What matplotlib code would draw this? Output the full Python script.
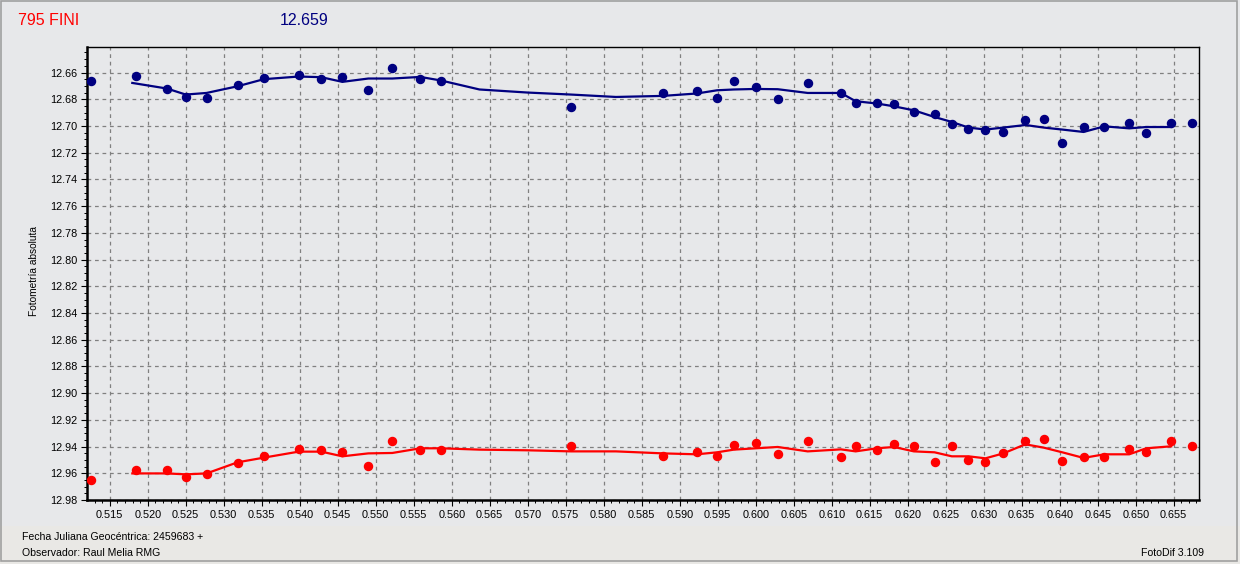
import matplotlib
matplotlib.use("Agg")
import matplotlib.pyplot as plt
from matplotlib.ticker import MultipleLocator, FormatStrFormatter
from matplotlib.patches import Rectangle
import numpy as np

# ---- data ----
point_x = [0.51254, 0.51842, 0.52253, 0.52500, 0.52774, 0.53182, 0.53527, 0.53987, 0.54285, 0.54561,
           0.54903, 0.55218, 0.55586, 0.55862, 0.57570, 0.58779, 0.59226, 0.59492, 0.59712, 0.60000,
           0.60290, 0.60684, 0.61121, 0.61315, 0.61595, 0.61818, 0.62081, 0.62353, 0.62580, 0.62800,
           0.63023, 0.63259, 0.63548, 0.63789, 0.64034, 0.64314, 0.64586, 0.64915, 0.65138, 0.65467,
           0.65742]
blue_y = [12.6663, 12.6625, 12.6725, 12.6783, 12.6793, 12.6690, 12.6643, 12.6618, 12.6648, 12.6630,
          12.6730, 12.6566, 12.6648, 12.6663, 12.6858, 12.6753, 12.6738, 12.6793, 12.6663, 12.6708,
          12.6800, 12.6678, 12.6757, 12.6828, 12.6828, 12.6832, 12.6895, 12.6910, 12.6985, 12.7023,
          12.7033, 12.7045, 12.6955, 12.6950, 12.7128, 12.7008, 12.7005, 12.6978, 12.7055, 12.6978,
          12.6978]
red_y = [12.9653, 12.9573, 12.9578, 12.9631, 12.9603, 12.9526, 12.9473, 12.9421, 12.9423, 12.9443,
         12.9548, 12.9361, 12.9428, 12.9428, 12.9398, 12.9468, 12.9443, 12.9473, 12.9391, 12.9376,
         12.9458, 12.9361, 12.9481, 12.9398, 12.9428, 12.9383, 12.9398, 12.9518, 12.9398, 12.9503,
         12.9518, 12.9451, 12.9361, 12.9346, 12.9511, 12.9481, 12.9481, 12.9421, 12.9443, 12.9361,
         12.9398]

line_x = [0.51797, 0.52253, 0.52500, 0.52774, 0.53182, 0.53527, 0.53987, 0.54285, 0.54561, 0.54903,
          0.55218, 0.55586, 0.55862, 0.56365, 0.57000, 0.57570, 0.58161, 0.58779, 0.59226, 0.59492,
          0.59712, 0.60000, 0.60290, 0.60684, 0.61121, 0.61315, 0.61595, 0.61818, 0.62081, 0.62353,
          0.62580, 0.62800, 0.63023, 0.63259, 0.63548, 0.63789, 0.64034, 0.64314, 0.64586, 0.64915,
          0.65138, 0.65467]
blue_line_y = [12.6678, 12.6720, 12.6765, 12.6753, 12.6703, 12.6650, 12.6630, 12.6635, 12.6670, 12.6645,
               12.6645, 12.6633, 12.6660, 12.6727, 12.6750, 12.6765, 12.6783, 12.6775, 12.6757, 12.6733,
               12.6727, 12.6723, 12.6725, 12.6753, 12.6753, 12.6815, 12.6832, 12.6853, 12.6883, 12.6933,
               12.6970, 12.7012, 12.7027, 12.7012, 12.6993, 12.7012, 12.7027, 12.7045, 12.7003, 12.7018,
               12.7008, 12.7008]
red_line_y = [12.9601, 12.9601, 12.9608, 12.9601, 12.9518, 12.9483, 12.9438, 12.9438, 12.9473, 12.9451,
              12.9448, 12.9413, 12.9413, 12.9423, 12.9428, 12.9436, 12.9436, 12.9451, 12.9458, 12.9443,
              12.9423, 12.9413, 12.9403, 12.9436, 12.9421, 12.9436, 12.9413, 12.9403, 12.9436, 12.9443,
              12.9473, 12.9473, 12.9488, 12.9451, 12.9383, 12.9408, 12.9443, 12.9485, 12.9458, 12.9458,
              12.9413, 12.9398]

title_left = "795 FINI"
title_mid = "12.659"
y_label = "Fotometría absoluta"
footer1 = "Fecha Juliana Geocéntrica: 2459683 +"
footer2 = "Observador: Raul Melia RMG"
footer3 = "FotoDif 3.109"

# ---- style ----
W, H = 1240, 564
BG = "#E7E8EA"
BLUE = "#000080"
RED = "#FF0000"
plt.rcParams['font.family'] = ['Liberation Sans', 'DejaVu Sans']

fig = plt.figure(figsize=(W / 100, H / 100), dpi=100, facecolor=BG)

def fx(x):
    return x / W

def fy(y):
    return 1 - y / H

# lower band and outer frame
fig.patches.append(Rectangle((0, 0), 1, fy(526), transform=fig.transFigure,
                             facecolor="#E9E8E5", edgecolor="none", zorder=-10))
fig.patches.append(Rectangle((fx(1), fy(561)), fx(1237) - fx(1), fy(1) - fy(561),
                             transform=fig.transFigure, facecolor="none",
                             edgecolor="#A0A0A0", linewidth=1.2, zorder=10))

left, right, top, bottom = 87, 1199, 47, 500
ax = fig.add_axes([fx(left), fy(bottom), fx(right) - fx(left), fy(top) - fy(bottom)])
ax.set_facecolor(BG)

ax.plot(line_x, blue_line_y, color=BLUE, linewidth=1.6, zorder=3)
ax.plot(line_x, red_line_y, color=RED, linewidth=1.6, zorder=3)
ax.plot(point_x, blue_y, linestyle="none", marker="o", markersize=5.8, color=BLUE, zorder=4)
ax.plot(point_x, red_y, linestyle="none", marker="o", markersize=5.8, color=RED, zorder=4)

ax.set_xlim(0.51201, 0.65833)
ax.set_ylim(12.98, 12.6409)

ax.xaxis.set_major_locator(MultipleLocator(0.005))
ax.xaxis.set_minor_locator(MultipleLocator(0.001))
ax.xaxis.set_major_formatter(FormatStrFormatter("%.3f"))
ax.yaxis.set_major_locator(MultipleLocator(0.02))
ax.yaxis.set_minor_locator(MultipleLocator(0.005))
ax.yaxis.set_major_formatter(FormatStrFormatter("%.2f"))

ax.grid(True, which="major", color="#808080", linestyle=(0, (3, 3)), linewidth=0.9)
ax.tick_params(axis="both", which="major", length=4, width=0.8, colors="black",
               labelsize=7.8, pad=3)
ax.tick_params(axis="both", which="minor", length=2.2, width=0.7, direction="out")

for s in ["left", "bottom"]:
    ax.spines[s].set_linewidth(1.8)
for s in ["top", "right"]:
    ax.spines[s].set_linewidth(1.0)

fig.text(fx(34), fy(271), y_label, rotation=90, ha="center", va="center", fontsize=7.3)

fig.text(fx(18), fy(25), title_left, color=RED, fontsize=11.5, ha="left", va="baseline")
fig.text(fx(280), fy(25), title_mid, color=BLUE, fontsize=11.5, ha="left", va="baseline")

fig.text(fx(22), fy(539.5), footer1, fontsize=7.6, ha="left", va="baseline")
fig.text(fx(22), fy(555.5), footer2, fontsize=7.6, ha="left", va="baseline")
fig.text(fx(1204), fy(555.5), footer3, fontsize=7.6, ha="right", va="baseline")

fig.savefig("out.png", dpi=100, facecolor=BG)
